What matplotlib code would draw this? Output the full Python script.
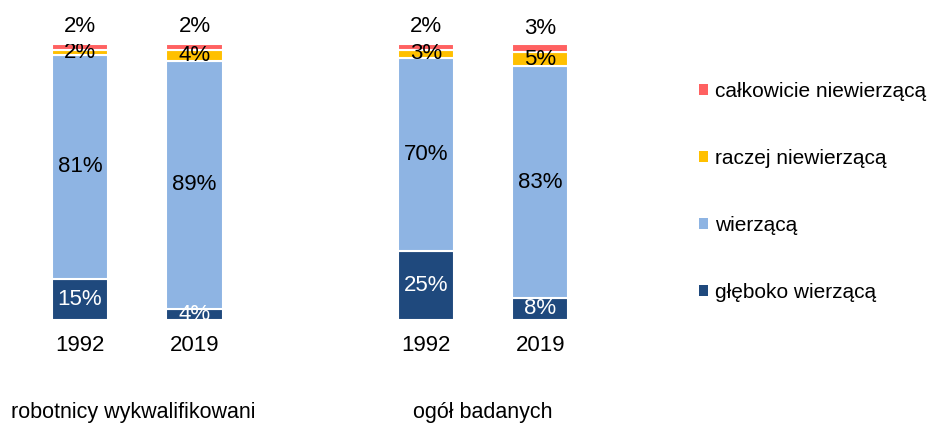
import matplotlib
matplotlib.use("Agg")
import matplotlib.pyplot as plt
from matplotlib.patches import Patch

plt.rcParams['font.family'] = ['Liberation Sans', 'DejaVu Sans']

years = ["1992", "2019", "1992", "2019"]
groups = ["robotnicy wykwalifikowani", "ogół badanych"]
series_names = ["głęboko wierzącą", "wierzącą", "raczej niewierzącą", "całkowicie niewierzącą"]
gleboko = [15, 4, 25, 8]
wierzaca = [81, 89, 70, 83]
raczej = [2, 4, 3, 5]
calkowicie = [2, 2, 2, 3]
colors = ["#1F497D", "#8EB4E3", "#FFC000", "#FF6161"]
label_colors = ["white", "black", "black", "black"]

W, H = 932, 423
fig = plt.figure(figsize=(W / 100, H / 100), dpi=100)
ax = fig.add_axes([0, (H - 320) / H, 640 / W, 276 / H])

x = [0, 1, 3.02, 4.02]
bw = 0.49
series = [gleboko, wierzaca, raczej, calkowicie]
totals = [sum(s[i] for s in series) for i in range(4)]
bottoms = [0, 0, 0, 0]
for si, vals in enumerate(series):
    shares = [v / t * 100 for v, t in zip(vals, totals)]
    ax.bar(x, shares, bw, bottom=bottoms, color=colors[si],
           edgecolor="white", linewidth=1.5, label=series_names[si])
    for xi, v, s, b in zip(x, vals, shares, bottoms):
        if si < 3:
            ax.text(xi, b + s / 2, f"{v}%", ha="center", va="center",
                    fontsize=16, color=label_colors[si], clip_on=True)
        else:
            ax.text(xi, b + s / 2 + 7.3, f"{v}%", ha="center", va="center",
                    fontsize=16, color="black", clip_on=False)
    bottoms = [b + s for b, s in zip(bottoms, shares)]

ax.set_xlim(-80 / 114.5, -80 / 114.5 + 640 / 114.5)
ax.set_ylim(0, 100)
ax.set_xticks(x, years)
ax.tick_params(axis="x", length=0, labelsize=16, pad=11)
ax.set_yticks([])
for s in ax.spines.values():
    s.set_visible(False)

fig.text(133 / W, 1 - 412 / H, groups[0], ha="center", va="center", fontsize=15.5)
fig.text(483 / W, 1 - 412 / H, groups[1], ha="center", va="center", fontsize=15.5)

handles = [Patch(facecolor=c) for c in colors][::-1]
labels = series_names[::-1]
fig.legend(handles, labels, loc="upper left", bbox_to_anchor=(699 / W, 1 - 82 / H),
           frameon=False, fontsize=15, handlelength=0.45, handleheight=0.45,
           handletextpad=0.3, labelspacing=2.3, borderaxespad=0, borderpad=0)

fig.savefig("out.png", dpi=100)
